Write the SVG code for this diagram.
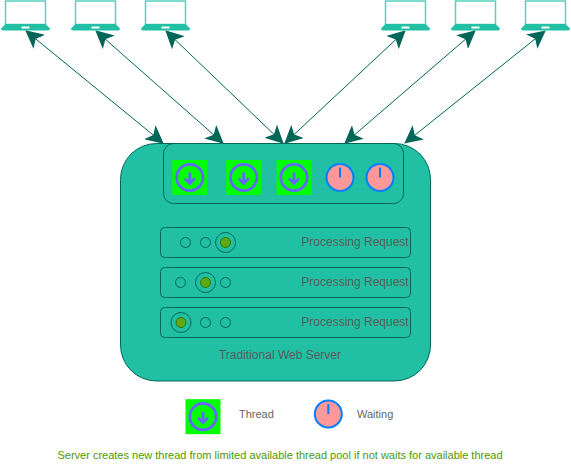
<svg xmlns="http://www.w3.org/2000/svg" width="571" height="471" viewBox="0 0 571 471">
<style>
text{font-family:"Liberation Sans",Arial,sans-serif;font-size:12px}
.c{fill:none;stroke:#006658;stroke-width:1;marker-start:url(#a);marker-end:url(#a)}
.box{fill:#21C0A5;stroke:#006658}
.dot{fill:none;stroke:#006658}
.led{fill:#60A917;stroke:#2D7600}
.lab{fill:#5C5C5C;text-anchor:middle}
.leg{fill:#666666;font-size:11px}
.scr{fill:none;stroke:#21C0A5;stroke-opacity:.75;stroke-width:1.500}
.bs{fill:#21C0A5}
.k{fill:#fff}
.g{fill:#00FF00}
.tr{fill:none;stroke:#6666FF;stroke-width:2.800}
.ar{fill:none;stroke:#6666FF;stroke-width:2.800}
.cl{fill:#FF9999;stroke:#007FFF;stroke-width:2}
.h{stroke:#007FFF;stroke-width:2;fill:none}
</style>
<defs>
<marker id="a" viewBox="0 0 18 18" refX="17" refY="9" markerWidth="18" markerHeight="18" orient="auto-start-reverse" markerUnits="userSpaceOnUse"><path d="M18 9L0 0L4.500 9L0 18Z" fill="#006658"/></marker>
<g id="laptop"><rect class="scr" x="-20" y="1" width="40" height="23.500"/><path class="bs" d="M-20 24H20L24.500 28.500Q24.500 30.500 22.500 30.500H-22.500Q-24.500 30.500 -24.500 28.500Z"/><rect class="k" x="-4" y="26.500" width="8" height="2"/></g>
<g id="thread"><rect class="g" x="-17.500" y="-17.500" width="35" height="35"/><circle class="tr" r="13.200"/><path class="ar" d="M0 -5V5M-5 1L0 6L5 1"/></g>
<g id="wait"><circle class="cl" r="13.500"/><path class="h" d="M0 -10V0"/></g>
</defs>
<g id="connectors">
<path class="c" d="M26 31L163 143"/>
<path class="c" d="M96 31L223 143"/>
<path class="c" d="M166 31L283 143"/>
<path class="c" d="M405 31L285 143"/>
<path class="c" d="M475 31L345 143"/>
<path class="c" d="M545 31L405 143"/>
</g>
<g id="client-1"><use href="#laptop" x="25.500"/></g>
<g id="client-2"><use href="#laptop" x="95.500"/></g>
<g id="client-3"><use href="#laptop" x="165.500"/></g>
<g id="client-4"><use href="#laptop" x="405.500"/></g>
<g id="client-5"><use href="#laptop" x="475.500"/></g>
<g id="client-6"><use href="#laptop" x="545.500"/></g>
<g id="server">
<rect class="box" x="120.500" y="143.500" width="310" height="237.500" rx="36"/>
<text class="lab" x="280" y="359">Traditional Web Server</text>
</g>
<g id="thread-pool">
<rect class="box" x="163.500" y="143.500" width="240" height="60" rx="10"/>
<use href="#thread" x="189.800" y="177.500"/>
<use href="#thread" x="243.700" y="177.500"/>
<use href="#thread" x="294" y="177.500"/>
<use href="#wait" x="340" y="177.500"/>
<use href="#wait" x="380" y="177.500"/>
</g>
<g id="request-1">
<rect class="box" x="160.500" y="227.500" width="250" height="30" rx="4"/>
<circle class="dot" cx="185.500" cy="242.500" r="5"/><circle class="dot" cx="205.500" cy="242.500" r="5"/><circle class="dot" cx="225.500" cy="242.500" r="10"/><circle class="led" cx="225.500" cy="242.500" r="5"/>
<text class="lab" x="355" y="246">Processing Request</text>
</g>
<g id="request-2">
<rect class="box" x="160.500" y="267.500" width="250" height="30" rx="4"/>
<circle class="dot" cx="180.500" cy="282.500" r="5"/><circle class="dot" cx="205.500" cy="282.500" r="10"/><circle class="led" cx="205.500" cy="282.500" r="5"/><circle class="dot" cx="225.500" cy="282.500" r="5"/>
<text class="lab" x="355" y="286">Processing Request</text>
</g>
<g id="request-3">
<rect class="box" x="160.500" y="307.500" width="250" height="30" rx="4"/>
<circle class="dot" cx="181" cy="322.500" r="10"/><circle class="led" cx="181" cy="322.500" r="5"/><circle class="dot" cx="205.500" cy="322.500" r="5"/><circle class="dot" cx="225.500" cy="322.500" r="5"/>
<text class="lab" x="355" y="326">Processing Request</text>
</g>
<g id="legend-thread"><use href="#thread" x="203" y="416.700"/><text class="leg" x="239" y="418">Thread</text></g>
<g id="legend-waiting"><use href="#wait" x="328.300" y="414"/><text class="leg" x="357" y="418">Waiting</text></g>
<g id="caption"><text x="280" y="459" text-anchor="middle" style="font-size:11px" fill="#4D9900">Server creates new thread from limited available thread pool if not waits for available thread</text></g>
</svg>
